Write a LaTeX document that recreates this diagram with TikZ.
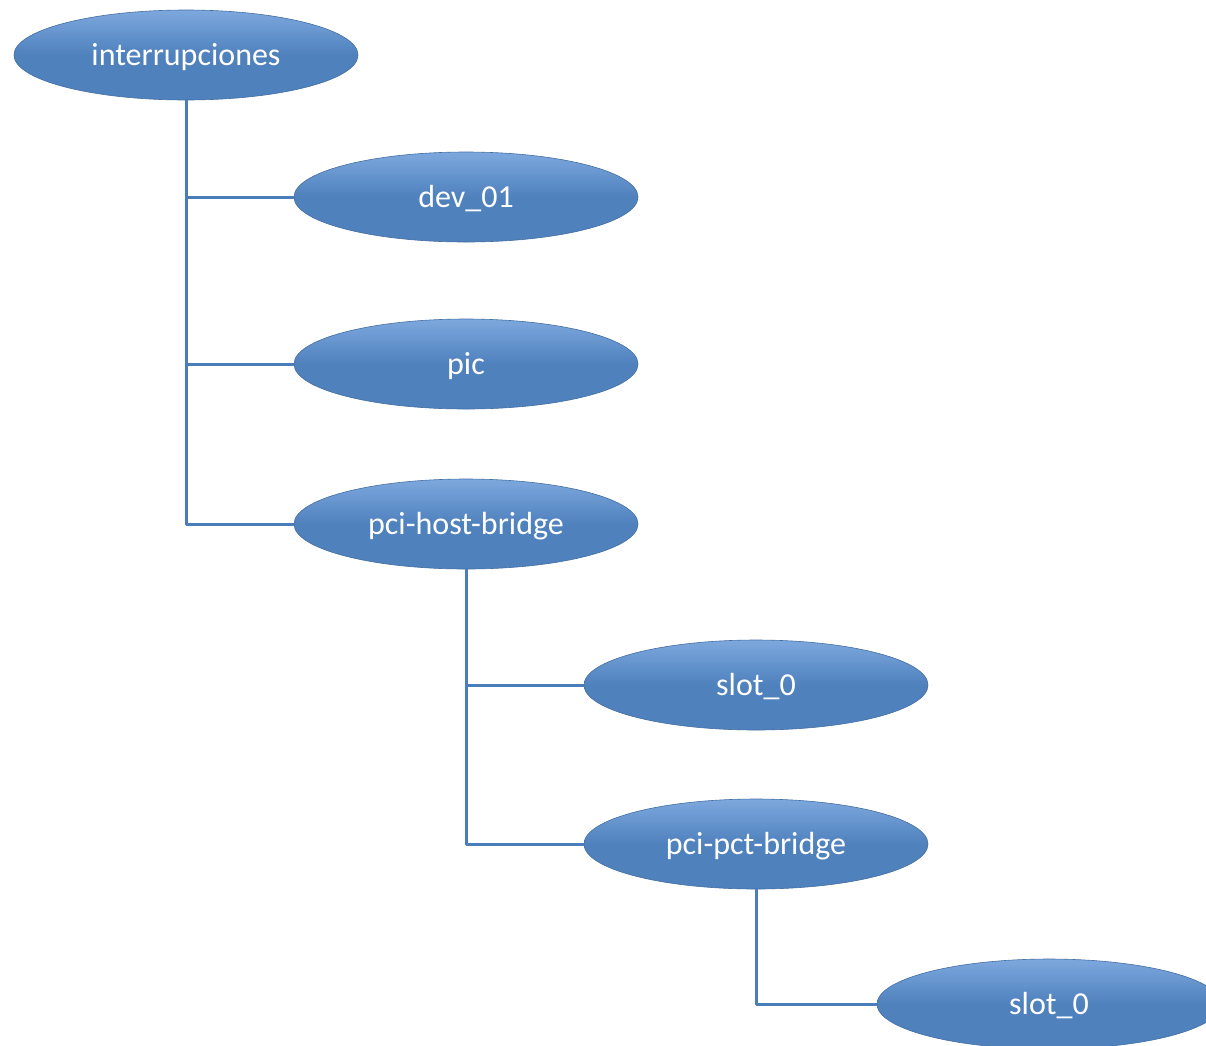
\documentclass[tikz,border=0pt]{standalone}
\usepackage{fontspec}
\setmainfont{Carlito}
\usepackage{tikz}
\usetikzlibrary{shapes.geometric}

\definecolor{accblue}{RGB}{79,129,189}
\definecolor{acclight}{RGB}{125,168,222}
\definecolor{linkblue}{RGB}{74,126,187}

\tikzset{
  elem/.style={ellipse, minimum width=344pt, minimum height=90pt, inner sep=0pt,
    top color=acclight, bottom color=accblue, middle color=accblue,
    draw=accblue!85!black, line width=0.6pt, text=white,
    text height=24pt, text depth=4pt,
    font=\fontsize{32}{36}\selectfont},
  link/.style={linkblue, line width=3pt}
}

\begin{document}
\begin{tikzpicture}[x=1pt, y=-1pt, line join=round]
  \useasboundingbox (0,0) rectangle (1206,1045);
  \clip (0,0) rectangle (1206,1045);
  \node[elem] (root) at (186,55) {interrupciones};
  \node[elem] (dev) at (466,197) {dev\_01};
  \node[elem] (pic) at (466,364) {pic};
  \node[elem] (host) at (466,524) {pci-host-bridge};
  \node[elem] (slotA) at (756,685) {slot\_0};
  \node[elem] (pct) at (756,844) {pci-pct-bridge};
  \node[elem] (slotB) at (1049,1004) {slot\_0};
  \draw[link] (root.south) |- (dev.west);
  \draw[link] (root.south) |- (pic.west);
  \draw[link] (root.south) |- (host.west);
  \draw[link] (host.south) |- (slotA.west);
  \draw[link] (host.south) |- (pct.west);
  \draw[link] (pct.south) |- (slotB.west);
\end{tikzpicture}
\end{document}
